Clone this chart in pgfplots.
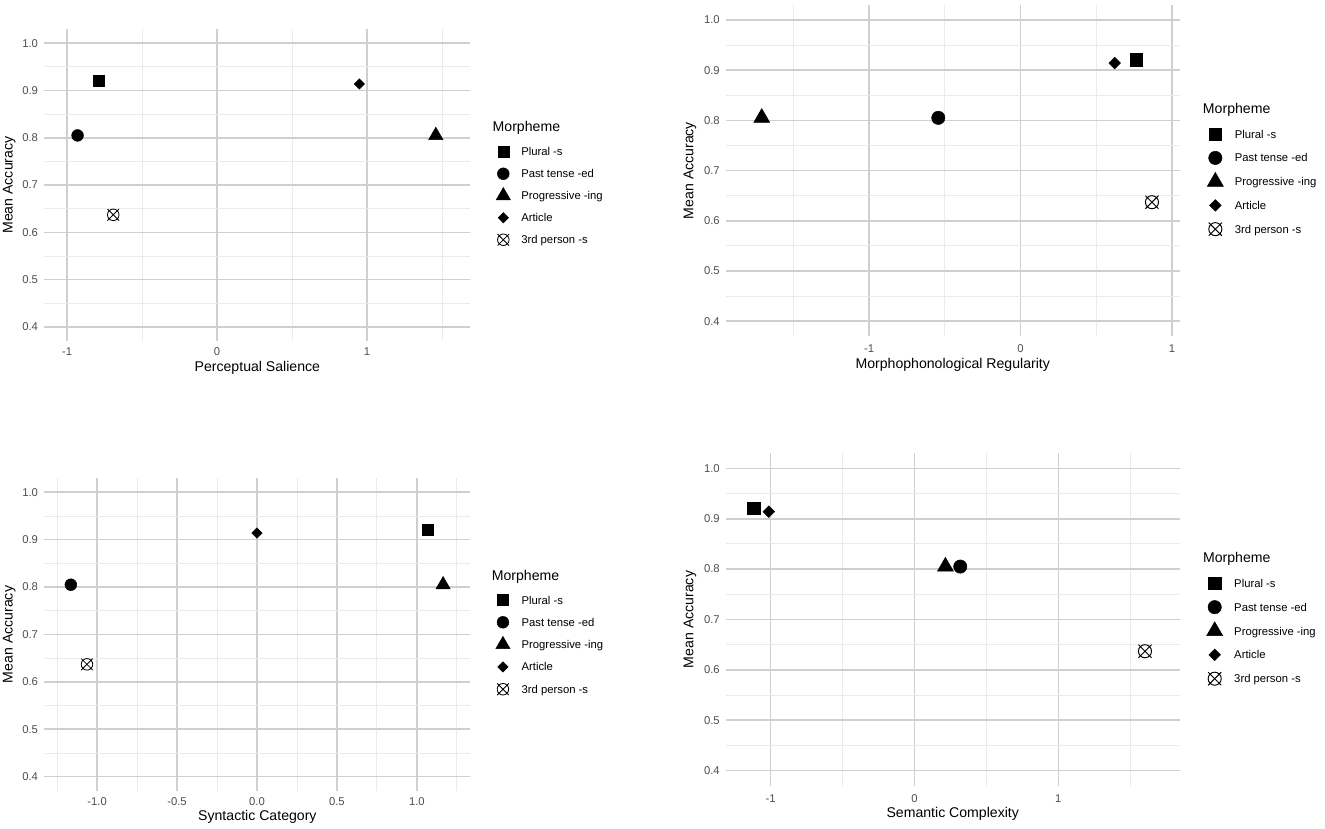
\documentclass[border=0pt]{standalone}
\usepackage{fontspec}
\setmainfont{Liberation Sans}
\usepackage{pgfplots}
\pgfplotsset{compat=1.18}
\definecolor{gmaj}{HTML}{CFCFCF}
\definecolor{gmin}{HTML}{EBEBEB}
\definecolor{tickgray}{HTML}{4D4D4D}
\newcommand{\tfont}{\fontsize{8.8}{10}\selectfont}
\newcommand{\lfont}{\fontsize{11}{13}\selectfont}
\pgfdeclareplotmark{ocross}{%
  \pgfpathcircle{\pgfpointorigin}{\pgfplotmarksize}%
  \pgfpathmoveto{\pgfqpoint{-\pgfplotmarksize}{-\pgfplotmarksize}}%
  \pgfpathlineto{\pgfqpoint{\pgfplotmarksize}{\pgfplotmarksize}}%
  \pgfpathmoveto{\pgfqpoint{-\pgfplotmarksize}{\pgfplotmarksize}}%
  \pgfpathlineto{\pgfqpoint{\pgfplotmarksize}{-\pgfplotmarksize}}%
  \pgfusepathqstroke}
\pgfplotsset{
  panel/.style={
    scale only axis, anchor=south west, clip=false,
    axis line style={draw=none}, tick style={draw=none},
    major tick length=0pt, minor tick length=0pt,
    ymin=0.37, ymax=1.03,
    ytick={0.4,0.5,0.6,0.7,0.8,0.9,1.0},
    yticklabels={0.4,0.5,0.6,0.7,0.8,0.9,1.0},
    minor ytick={0.45,0.55,0.65,0.75,0.85,0.95},
    grid=both,
    major grid style={gmaj, line width=1.25pt},
    minor grid style={gmin, line width=0.65pt},
    tick label style={font=\tfont, text=tickgray, inner sep=0pt},
    yticklabel style={anchor=east, xshift=-4.7pt},
    label style={font=\lfont},
    ylabel={Mean Accuracy},
    legend cell align=left,
    legend style={draw=none, fill=none, anchor=north west, inner sep=0pt,
      outer sep=0pt, row sep=0pt, font=\tfont,
      nodes={inner sep=0pt, text height=6.3pt, text depth=0pt}},
  },
  limg/.style={legend image code/.code={\path[draw=none,fill=none] (-6pt,-#1) rectangle (6pt,#1); \draw[##1] plot coordinates {(0pt,0pt)};}},
  % small panels
  sq/.style={only marks, black, mark=square*, mark size=4.3pt},
  ci/.style={only marks, black, mark=*, mark size=4.6pt},
  tr/.style={only marks, black, mark=triangle*, mark size=6.4pt},
  di/.style={only marks, black, mark=square*, mark size=2.85pt, mark options={rotate=45}},
  ot/.style={only marks, black, mark=ocross, mark size=4.5pt, mark options={line width=0.65pt}},
  % large panels
  SQ/.style={only marks, black, mark=square*, mark size=4.9pt},
  CI/.style={only marks, black, mark=*, mark size=5.2pt},
  TR/.style={only marks, black, mark=triangle*, mark size=7.2pt},
  DI/.style={only marks, black, mark=square*, mark size=3.2pt, mark options={rotate=45}},
  OT/.style={only marks, black, mark=ocross, mark size=5.1pt, mark options={line width=0.75pt}},
}
\begin{document}
\begin{tikzpicture}
\path[use as bounding box] (0,0) rectangle (1033.5pt,646.6pt);

% ---------- Panel 1 ----------
\begin{axis}[panel, at={(34.55pt,380.6pt)}, width=332.4pt, height=243.3pt,
  xmin=-1.153, xmax=1.69,
  xtick={-1,0,1}, xticklabels={-1,0,1}, minor xtick={-0.5,0.5,1.5},
  xticklabel style={anchor=center, yshift=-8.6pt},
  xlabel={Perceptual Salience},
  xlabel style={at={(axis description cs:0.5,-0.0875)}, anchor=center},
  ylabel style={at={(axis description cs:-0.0821,0.5)}, anchor=center},
  limg=8.58pt,
  legend style={at={(axis description cs:1.0591,0.6420)}, /tikz/every odd column/.style={column sep=8pt}}]
\addplot[sq] coordinates {(-0.790,0.921)}; \addlegendentry{Plural -s}
\addplot[ci] coordinates {(-0.931,0.805)}; \addlegendentry{Past tense -ed}
\addplot[tr] coordinates {(1.459,0.805)}; \addlegendentry{Progressive -ing}
\addplot[di] coordinates {(0.949,0.914)}; \addlegendentry{Article}
\addplot[ot] coordinates {(-0.693,0.637)}; \addlegendentry{3rd person -s}
\node[anchor=base west, font=\lfont, inner sep=0pt] at (axis description cs:1.0516,0.6708) {Morpheme};
\end{axis}

% ---------- Panel 2 ----------
\begin{axis}[panel, at={(566.3pt,384.3pt)}, width=353.7pt, height=258.5pt,
  xmin=-1.945, xmax=1.05,
  xtick={-1,0,1}, xticklabels={-1,0,1}, minor xtick={-1.5,-0.5,0.5},
  xticklabel style={anchor=center, yshift=-9.7pt},
  xlabel={Morphophonological Regularity},
  xlabel style={at={(axis description cs:0.5,-0.0867)}, anchor=center},
  ylabel style={at={(axis description cs:-0.0794,0.5)}, anchor=center},
  limg=9.26pt,
  legend style={at={(axis description cs:1.0614,0.6456)}, /tikz/every odd column/.style={column sep=9pt}}]
\addplot[SQ] coordinates {(0.765,0.921)}; \addlegendentry{Plural -s}
\addplot[CI] coordinates {(-0.543,0.805)}; \addlegendentry{Past tense -ed}
\addplot[TR] coordinates {(-1.709,0.805)}; \addlegendentry{Progressive -ing}
\addplot[DI] coordinates {(0.622,0.914)}; \addlegendentry{Article}
\addplot[OT] coordinates {(0.868,0.637)}; \addlegendentry{3rd person -s}
\node[anchor=base west, font=\lfont, inner sep=0pt] at (axis description cs:1.0512,0.6727) {Morpheme};
\end{axis}

% ---------- Panel 3 ----------
\begin{axis}[panel, at={(34.55pt,29.7pt)}, width=332.4pt, height=244.0pt,
  xmin=-1.33, xmax=1.335,
  xtick={-1,-0.5,0,0.5,1}, xticklabels={-1.0,-0.5,0.0,0.5,1.0},
  minor xtick={-1.25,-0.75,-0.25,0.25,0.75,1.25},
  xticklabel style={anchor=center, yshift=-8.4pt},
  xlabel={Syntactic Category},
  xlabel style={at={(axis description cs:0.5,-0.0844)}, anchor=center},
  ylabel style={at={(axis description cs:-0.0821,0.5)}, anchor=center},
  limg=8.70pt,
  legend style={at={(axis description cs:1.0582,0.6459)}, /tikz/every odd column/.style={column sep=8.6pt}}]
\addplot[sq] coordinates {(1.066,0.921)}; \addlegendentry{Plural -s}
\addplot[ci] coordinates {(-1.164,0.805)}; \addlegendentry{Past tense -ed}
\addplot[tr] coordinates {(1.164,0.805)}; \addlegendentry{Progressive -ing}
\addplot[di] coordinates {(0.0,0.914)}; \addlegendentry{Article}
\addplot[ot] coordinates {(-1.063,0.637)}; \addlegendentry{3rd person -s}
\node[anchor=base west, font=\lfont, inner sep=0pt] at (axis description cs:1.0495,0.6717) {Morpheme};
\end{axis}

% ---------- Panel 4 ----------
\begin{axis}[panel, at={(566.3pt,33.7pt)}, width=353.7pt, height=259.4pt,
  xmin=-1.31, xmax=1.842,
  xtick={-1,0,1}, xticklabels={-1,0,1}, minor xtick={-0.5,0.5,1.5},
  xticklabel style={anchor=center, yshift=-9.7pt},
  xlabel={Semantic Complexity},
  xlabel style={at={(axis description cs:0.5,-0.0856)}, anchor=center},
  ylabel style={at={(axis description cs:-0.0794,0.5)}, anchor=center},
  limg=9.30pt,
  legend style={at={(axis description cs:1.0600,0.6446)}, /tikz/every odd column/.style={column sep=9pt}}]
\addplot[SQ] coordinates {(-1.116,0.921)}; \addlegendentry{Plural -s}
\addplot[CI] coordinates {(0.318,0.805)}; \addlegendentry{Past tense -ed}
\addplot[TR] coordinates {(0.215,0.805)}; \addlegendentry{Progressive -ing}
\addplot[DI] coordinates {(-1.013,0.914)}; \addlegendentry{Article}
\addplot[OT] coordinates {(1.602,0.637)}; \addlegendentry{3rd person -s}
\node[anchor=base west, font=\lfont, inner sep=0pt] at (axis description cs:1.0515,0.6727) {Morpheme};
\end{axis}
\end{tikzpicture}
\end{document}
